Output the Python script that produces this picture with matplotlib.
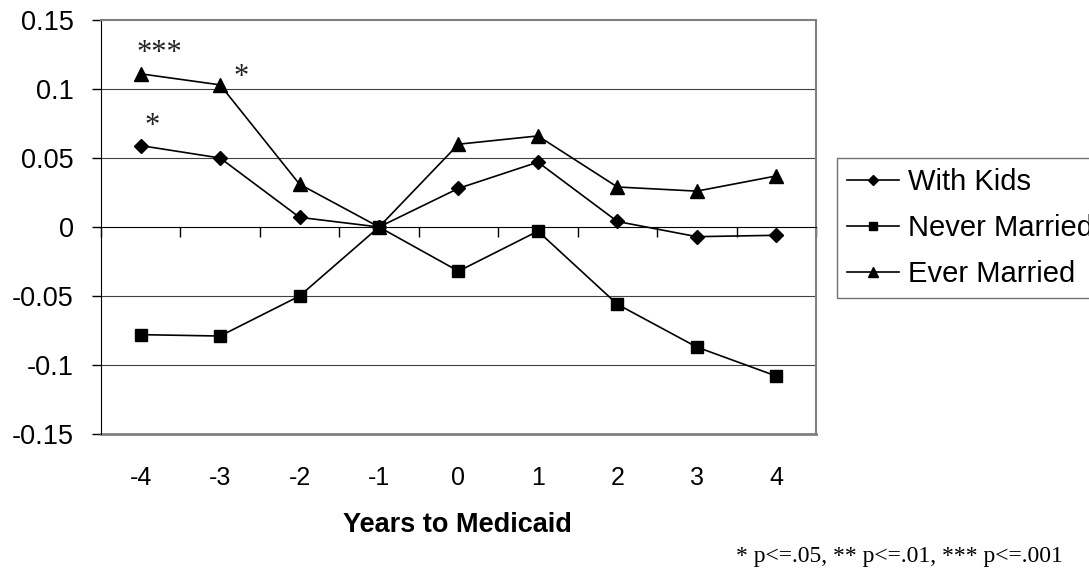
import matplotlib
matplotlib.use('Agg')
import matplotlib.pyplot as plt
import matplotlib.transforms as mtransforms

plt.rcParams['font.family'] = 'Liberation Sans'

# years relative to the Medicaid spell
years = [-4, -3, -2, -1, 0, 1, 2, 3, 4]
year_labels = ['-4', '-3', '-2', '-1', '0', '1', '2', '3', '4']

# estimated effects by group
with_kids = [0.059, 0.050, 0.007, 0.0, 0.028, 0.047, 0.004, -0.007, -0.006]
never_married = [-0.078, -0.079, -0.050, 0.0, -0.032, -0.003, -0.056, -0.087, -0.108]
ever_married = [0.111, 0.103, 0.031, 0.0, 0.060, 0.066, 0.029, 0.026, 0.037]

# significance stars: (group, year index, label)
stars = [('ever', 0, '***'), ('ever', 1, '*'), ('kids', 0, '*')]

fig = plt.figure(figsize=(10.89, 5.75), dpi=100)
ax = fig.add_axes([0.0927, 0.2452, 0.6566, 0.72])

xpos = list(range(len(years)))
ax.plot(xpos, with_kids, color='black', lw=1.2, marker='D', ms=7.5, label='With Kids')
ax.plot(xpos, never_married, color='black', lw=1.2, marker='s', ms=8, label='Never Married')
ax.plot(xpos, ever_married, color='black', lw=1.2, marker='^', ms=9.5, label='Ever Married')

ax.set_xlim(-0.5, len(years) - 0.5)
ax.set_ylim(-0.15, 0.15)

# horizontal gridlines
for g in [-0.1, -0.05, 0.05, 0.1]:
    ax.axhline(g, color='#404040', lw=0.8, zorder=0)

# y axis
yt = [-0.15, -0.1, -0.05, 0, 0.05, 0.1, 0.15]
ax.set_yticks(yt)
ax.set_yticklabels(['-0.15', '-0.1', '-0.05', '0', '0.05', '0.1', '0.15'], fontsize=19.5)
ax.tick_params(axis='y', direction='out', length=6.5, width=1, pad=13)

# category axis sits on the zero line, tick marks between categories
ax.spines['bottom'].set_position(('data', 0))
ax.set_xticks([i + 0.5 for i in range(-1, len(years))])
ax.set_xticklabels([])
ax.tick_params(axis='x', direction='out', length=7, width=1)

# plot area border
for side in ['top', 'right']:
    ax.spines[side].set_color('#808080')
    ax.spines[side].set_linewidth(1.5)
ax.axhline(-0.15, color='#808080', lw=2.0, clip_on=False)

# category labels below the plot area
trans = mtransforms.blended_transform_factory(ax.transData, fig.transFigure)
for i, lab in enumerate(year_labels):
    ax.text(i, 0.168, lab, transform=trans, ha='center', va='center', fontsize=18)

fig.text(0.42, 0.087, 'Years to Medicaid', ha='center', va='center',
         fontsize=19.5, fontweight='bold')

# stars above the significant points
offsets = {('ever', 0): (13.7, 9.5), ('ever', 1): (15, 0), ('kids', 0): (8, 8.6)}
for grp, idx, lab in stars:
    yv = ever_married[idx] if grp == 'ever' else with_kids[idx]
    ax.annotate(lab, xy=(idx, yv), xytext=offsets[(grp, idx)], textcoords='offset points',
                ha='center', va='baseline', fontsize=22, color='#222222',
                family='Liberation Serif')

fig.text(0.976, 0.033, '* p<=.05, ** p<=.01, *** p<=.001', ha='right', va='center',
         fontsize=17, family='Liberation Serif')

leg = fig.legend(loc='upper left', bbox_to_anchor=(0.7686, 0.7252), fontsize=21,
                 frameon=True, fancybox=False, edgecolor='#505050', borderpad=0.34,
                 handlelength=1.8, handletextpad=0.28, labelspacing=0.62, markerscale=0.7,
                 borderaxespad=0)
leg.get_frame().set_linewidth(1)

fig.savefig('out.png', dpi=100)
